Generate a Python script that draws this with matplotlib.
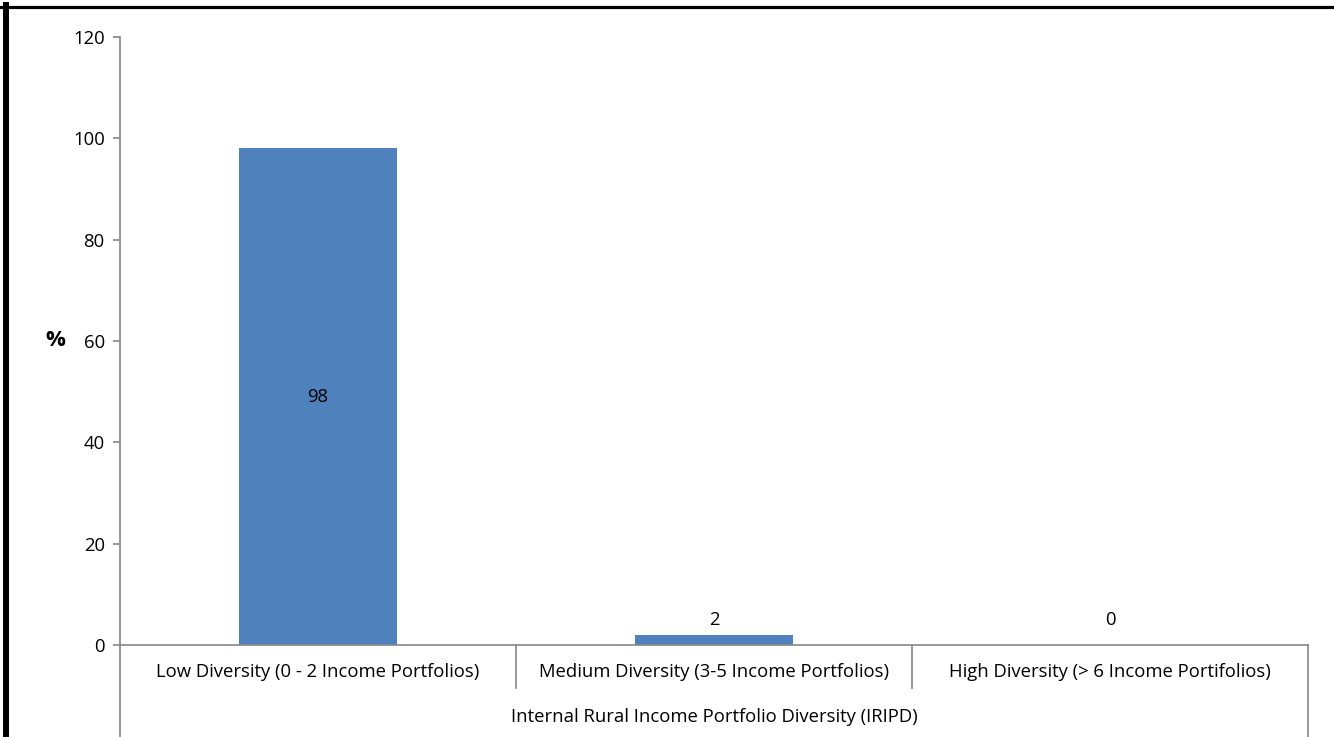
import matplotlib.pyplot as plt
from matplotlib.lines import Line2D
from matplotlib.transforms import blended_transform_factory

plt.rcParams['font.family'] = ['Open Sans', 'DejaVu Sans']

categories = ['Low Diversity (0 - 2 Income Portfolios)',
              'Medium Diversity (3-5 Income Portfolios)',
              'High Diversity (> 6 Income Portifolios)']
values = [98, 2, 0]
group_label = 'Internal Rural Income Portfolio Diversity (IRIPD)'

axis_grey = '#868686'
fs = 13.3

fig = plt.figure(figsize=(13.34, 7.37), dpi=100)
ax = fig.add_axes([0.09, 0.1248, 0.8905, 0.825])

x = range(len(categories))
bars = ax.bar(x, values, width=0.4, color='#4F81BD')

ax.set_xlim(-0.5, len(categories) - 0.5)
ax.set_ylim(0, 120)
ax.set_yticks(range(0, 121, 20))
ax.set_xticks([])

for side in ['top', 'right']:
    ax.spines[side].set_visible(False)
for side in ['left', 'bottom']:
    ax.spines[side].set_color(axis_grey)
    ax.spines[side].set_linewidth(1.2)
ax.tick_params(axis='y', colors=axis_grey, labelcolor='black', length=5,
               width=1.2, pad=6, labelsize=fs)

# value labels: first inside the bar, the small ones above
for i, (b, v) in enumerate(zip(bars, values)):
    cx = b.get_x() + b.get_width() / 2
    if i == 0:
        ax.text(cx, v / 2, str(v), ha='center', va='center', fontsize=fs)
    else:
        ax.annotate(str(v), (cx, max(v, 2)), xytext=(0, 11),
                    textcoords='offset points', ha='center', va='center',
                    fontsize=fs)

# category labels and separators below the axis
trans = blended_transform_factory(ax.transData, ax.transAxes)
for i, c in enumerate(categories):
    ax.text(i, -0.044, c, transform=trans, ha='center', va='center', fontsize=fs)
for i, edge in enumerate([-0.5, 0.5, 1.5, 2.5]):
    low = -0.151 if edge in (-0.5, 2.5) else -0.0707
    ax.add_line(Line2D([edge, edge], [0, low], transform=trans,
                       color=axis_grey, lw=1.2, clip_on=False))
ax.text(1, -0.119, group_label, transform=trans, ha='center', va='center',
        fontsize=fs)

fig.text(55 / 1334, 1 - 341 / 737, '%', ha='center', va='center',
         fontsize=16, fontweight='bold')

# black frame on top and left edges
fig.add_artist(Line2D([0, 1], [1 - 6.5 / 737] * 2, color='black', lw=2.3,
                      transform=fig.transFigure))
fig.add_artist(Line2D([6 / 1334] * 2, [0, 1 - 5 / 737], color='black', lw=4.3,
                      transform=fig.transFigure))

fig.savefig('out.png', dpi=100)
